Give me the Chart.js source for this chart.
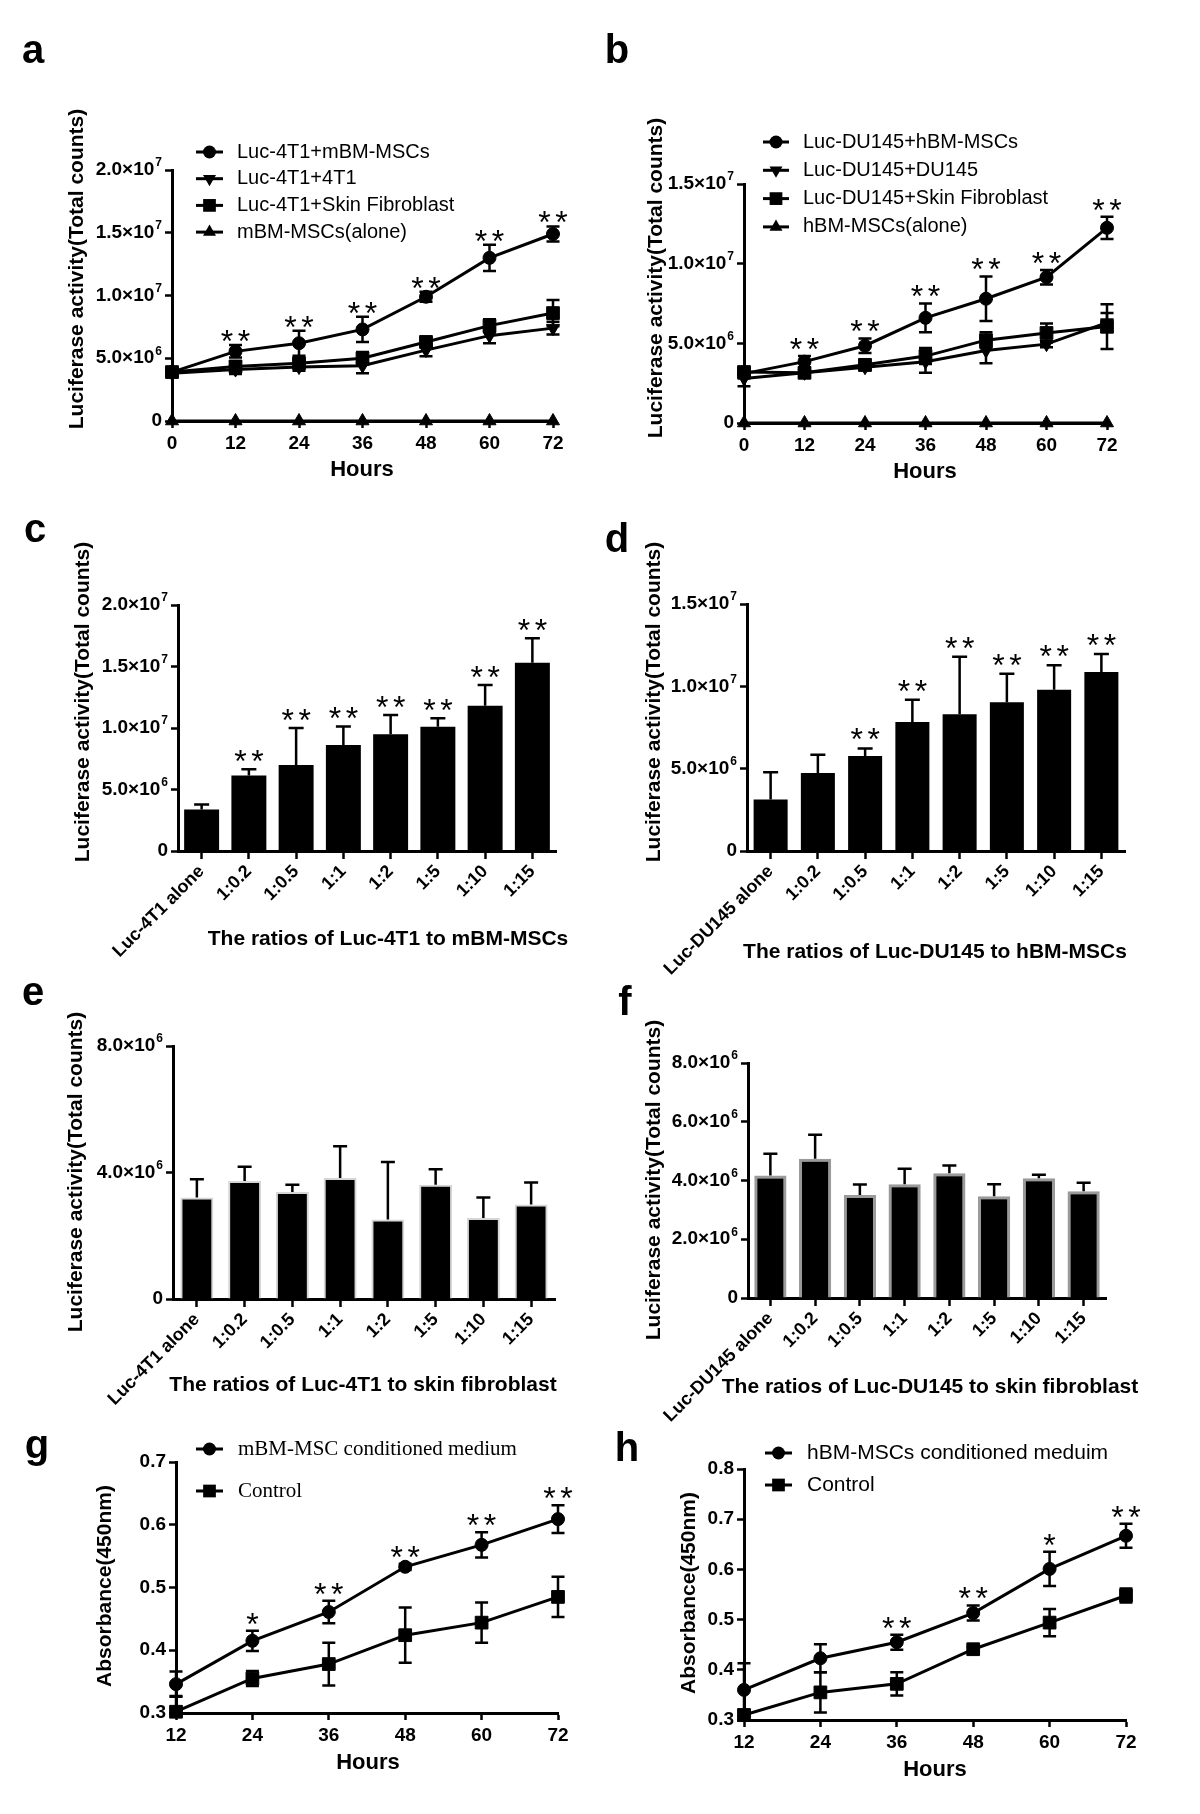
<!DOCTYPE html>
<html><head><meta charset="utf-8">
<script src="https://cdn.jsdelivr.net/npm/chart.js@4.4.1/dist/chart.umd.min.js"></script>
<style>
html,body{margin:0;padding:0;background:#fff;}
#wrap{position:relative;width:1200px;height:1814px;background:#fff;}
canvas{position:absolute;left:0;top:0;}
</style></head><body><div id="wrap"></div>
<script>
// ---------------- DATA ----------------
const hoursAB = [0, 12, 24, 36, 48, 60, 72];
const hoursGH = [12, 24, 36, 48, 60, 72];

// Panel a
const a_series = ['Luc-4T1+mBM-MSCs', 'Luc-4T1+4T1', 'Luc-4T1+Skin Fibroblast', 'mBM-MSCs(alone)'];
const a_mbm      = [3.9e6, 5.55e6, 6.2e6, 7.3e6, 9.9e6, 13.0e6, 14.9e6];
const a_mbm_err  = [0.3e6, 0.5e6, 1.0e6, 1.0e6, 0.4e6, 1.05e6, 0.6e6];
const a_4t1      = [3.8e6, 4.1e6, 4.3e6, 4.4e6, 5.65e6, 6.8e6, 7.4e6];
const a_4t1_err  = [0.3e6, 0.35e6, 0.3e6, 0.6e6, 0.5e6, 0.6e6, 0.5e6];
const a_skin     = [3.9e6, 4.35e6, 4.6e6, 5.0e6, 6.3e6, 7.6e6, 8.6e6];
const a_skin_err = [0.2e6, 0.4e6, 0.3e6, 0.5e6, 0.3e6, 0.5e6, 1.05e6];
const a_alone    = [0, 0, 0, 0, 0, 0, 0];
const a_sig      = ['', '**', '**', '**', '**', '**', '**'];
const a_yTicks   = [0, 5e6, 1e7, 1.5e7, 2e7];
const a_yLabels  = ['0', '5.0×10^6', '1.0×10^7', '1.5×10^7', '2.0×10^7'];

// Panel b
const b_series = ['Luc-DU145+hBM-MSCs', 'Luc-DU145+DU145', 'Luc-DU145+Skin Fibroblast', 'hBM-MSCs(alone)'];
const b_hbm      = [3.1e6, 3.85e6, 4.85e6, 6.6e6, 7.8e6, 9.15e6, 12.25e6];
const b_hbm_err  = [0.3e6, 0.35e6, 0.45e6, 0.9e6, 1.4e6, 0.45e6, 0.7e6];
const b_du       = [2.8e6, 3.15e6, 3.5e6, 3.85e6, 4.55e6, 4.95e6, 6.3e6];
const b_du_err   = [0.5e6, 0.2e6, 0.2e6, 0.7e6, 0.8e6, 0.2e6, 0.6e6];
const b_skin     = [3.2e6, 3.15e6, 3.65e6, 4.2e6, 5.2e6, 5.65e6, 6.05e6];
const b_skin_err = [0.3e6, 0.2e6, 0.3e6, 0.5e6, 0.5e6, 0.6e6, 1.4e6];
const b_alone    = [0, 0, 0, 0, 0, 0, 0];
const b_sig      = ['', '**', '**', '**', '**', '**', '**'];
const b_yTicks   = [0, 5e6, 1e7, 1.5e7];
const b_yLabels  = ['0', '5.0×10^6', '1.0×10^7', '1.5×10^7'];

// Panel c
const c_cats   = ['Luc-4T1 alone', '1:0.2', '1:0.5', '1:1', '1:2', '1:5', '1:10', '1:15'];
const c_vals   = [3.38e6, 6.14e6, 7.0e6, 8.62e6, 9.49e6, 10.1e6, 11.8e6, 15.3e6];
const c_err    = [0.4e6, 0.5e6, 3.0e6, 1.5e6, 1.56e6, 0.7e6, 1.7e6, 2.0e6];
const c_sig    = ['', '**', '**', '**', '**', '**', '**', '**'];
const c_yTicks = [0, 5e6, 1e7, 1.5e7, 2e7];
const c_yLabels= ['0', '5.0×10^6', '1.0×10^7', '1.5×10^7', '2.0×10^7'];

// Panel d
const d_cats   = ['Luc-DU145 alone', '1:0.2', '1:0.5', '1:1', '1:2', '1:5', '1:10', '1:15'];
const d_vals   = [3.12e6, 4.74e6, 5.77e6, 7.83e6, 8.3e6, 9.03e6, 9.8e6, 10.87e6];
const d_err    = [1.66e6, 1.1e6, 0.45e6, 1.36e6, 3.5e6, 1.74e6, 1.48e6, 1.1e6];
const d_sig    = ['', '', '**', '**', '**', '**', '**', '**'];
const d_yTicks = [0, 5e6, 1e7, 1.5e7];
const d_yLabels= ['0', '5.0×10^6', '1.0×10^7', '1.5×10^7'];

// Panel e
const e_cats   = ['Luc-4T1 alone', '1:0.2', '1:0.5', '1:1', '1:2', '1:5', '1:10', '1:15'];
const e_vals   = [3.21e6, 3.73e6, 3.38e6, 3.83e6, 2.51e6, 3.61e6, 2.56e6, 2.99e6];
const e_err    = [0.58e6, 0.45e6, 0.23e6, 1.0e6, 1.82e6, 0.49e6, 0.65e6, 0.69e6];
const e_yTicks = [0, 4e6, 8e6];
const e_yLabels= ['0', '4.0×10^6', '8.0×10^6'];

// Panel f
const f_cats   = ['Luc-DU145 alone', '1:0.2', '1:0.5', '1:1', '1:2', '1:5', '1:10', '1:15'];
const f_vals   = [4.17e6, 4.74e6, 3.51e6, 3.87e6, 4.25e6, 3.46e6, 4.08e6, 3.63e6];
const f_err    = [0.74e6, 0.82e6, 0.35e6, 0.53e6, 0.26e6, 0.41e6, 0.12e6, 0.29e6];
const f_yTicks = [0, 2e6, 4e6, 6e6, 8e6];
const f_yLabels= ['0', '2.0×10^6', '4.0×10^6', '6.0×10^6', '8.0×10^6'];

// Panel g
const g_series   = ['mBM-MSC conditioned medium', 'Control'];
const g_cm       = [0.346, 0.415, 0.461, 0.533, 0.568, 0.609];
const g_cm_err   = [0.02, 0.016, 0.018, 0.005, 0.02, 0.022];
const g_ctrl     = [0.302, 0.355, 0.378, 0.424, 0.444, 0.485];
const g_ctrl_err = [0.025, 0.012, 0.034, 0.044, 0.032, 0.032];
const g_sig      = ['', '*', '**', '**', '**', '**'];
const g_yTicks   = [0.3, 0.4, 0.5, 0.6, 0.7];
const g_yLabels  = ['0.3', '0.4', '0.5', '0.6', '0.7'];

// Panel h
const h_series   = ['hBM-MSCs conditioned meduim', 'Control'];
const h_cm       = [0.36, 0.423, 0.455, 0.513, 0.601, 0.667];
const h_cm_err   = [0.053, 0.028, 0.015, 0.015, 0.034, 0.024];
const h_ctrl     = [0.31, 0.355, 0.372, 0.441, 0.494, 0.548];
const h_ctrl_err = [0.01, 0.04, 0.023, 0.005, 0.027, 0.014];
const h_sig      = ['', '', '**', '**', '*', '**'];
const h_yTicks   = [0.3, 0.4, 0.5, 0.6, 0.7, 0.8];
const h_yLabels  = ['0.3', '0.4', '0.5', '0.6', '0.7', '0.8'];

// ---------------- RENDERING ----------------
const FONT = "'Liberation Sans', Arial, Helvetica, sans-serif";
const SERIF = "'Liberation Serif', 'Times New Roman', serif";
const W = 1200, H = 1814, YW = 110;
const TICKLEN = 7;

function mkCanvas() {
  const c = document.createElement('canvas');
  c.width = W; c.height = H;
  c.style.width = W + 'px'; c.style.height = H + 'px';
  document.getElementById('wrap').appendChild(c);
  return c.getContext('2d');
}
function tickFont(size) { return { family: FONT, size: size, weight: 'bold' }; }
const gridCfg = { display: true, drawOnChartArea: false, drawTicks: true, tickLength: TICKLEN, tickWidth: 2.5, tickColor: '#000', color: '#000' };
const borderCfg = { display: true, color: '#000', width: 3 };

function yAxis(min, max, vals) {
  return {
    type: 'linear', position: 'left', min: min, max: max,
    afterBuildTicks: s => { s.ticks = vals.map(v => ({ value: v })); },
    ticks: { display: false },
    grid: gridCfg, border: borderCfg,
    afterFit: s => { s.width = YW; }
  };
}
function xLinear(min, max, vals) {
  return {
    type: 'linear', position: 'bottom', min: min, max: max, clip: false,
    afterBuildTicks: s => { s.ticks = vals.map(v => ({ value: v })); },
    ticks: { callback: v => String(v), font: tickFont(19), color: '#000', padding: 4, maxRotation: 0, autoSkip: false },
    grid: gridCfg, border: borderCfg,
    afterFit: s => { s.height = 40; }
  };
}
function xCat() {
  return {
    type: 'category', position: 'bottom', offset: true, clip: false,
    ticks: { font: tickFont(18), color: '#000', padding: 2, minRotation: 45, maxRotation: 45, autoSkip: false },
    grid: Object.assign({}, gridCfg, { offset: false, tickLength: 8 }),
    border: borderCfg,
    afterFit: s => { s.height = 130; }
  };
}

function drawMarker(ctx, style, rot, r, x, y) {
  ctx.save(); ctx.translate(x, y); ctx.rotate((rot || 0) * Math.PI / 180); ctx.beginPath();
  if (style === 'circle') ctx.arc(0, 0, r, 0, 2 * Math.PI);
  else if (style === 'rect') { const s = r * Math.SQRT1_2; ctx.rect(-s, -s, 2 * s, 2 * s); }
  else { ctx.moveTo(0, -r); ctx.lineTo(r * 0.866, r * 0.5); ctx.lineTo(-r * 0.866, r * 0.5); ctx.closePath(); }
  ctx.fill(); ctx.restore();
}

function makeDeco(cfg) {
  return {
    id: 'deco',
    afterDatasetsDraw(chart) {
      const ctx = chart.ctx, ys = chart.scales.y;
      ctx.save();
      ctx.strokeStyle = '#000'; ctx.lineWidth = 2.5; ctx.lineCap = 'butt';
      chart.data.datasets.forEach((ds, di) => {
        if (!ds.errors) return;
        const meta = chart.getDatasetMeta(di);
        meta.data.forEach((el, i) => {
          const v = ds.values[i], e = ds.errors[i];
          if (!e) return;
          const x = el.x, cap = cfg.cap / 2;
          const top = ys.getPixelForValue(v + e);
          const lowV = ds.errUp ? v : Math.max(v - e, ys.min);
          const bot = ys.getPixelForValue(lowV);
          ctx.beginPath();
          ctx.moveTo(x, top); ctx.lineTo(x, bot);
          ctx.moveTo(x - cap, top); ctx.lineTo(x + cap, top);
          if (!ds.errUp && v - e >= ys.min) { ctx.moveTo(x - cap, bot); ctx.lineTo(x + cap, bot); }
          ctx.stroke();
        });
      });
      if (cfg.stars) {
        const ds = chart.data.datasets[0], meta = chart.getDatasetMeta(0);
        const sz = 32;
        ctx.fillStyle = '#000'; ctx.font = sz + 'px ' + FONT; ctx.textAlign = 'center'; ctx.textBaseline = 'alphabetic';
        cfg.stars.forEach((s, i) => {
          if (!s) return;
          const x = meta.data[i].x;
          const yTop = ys.getPixelForValue(ds.values[i] + ds.errors[i]);
          const yc = yTop - cfg.starGap;
          const n = s.length, sp = 17;
          for (let k = 0; k < n; k++) {
            ctx.fillText('*', x + (k - (n - 1) / 2) * sp, yc + 0.56 * sz);
          }
        });
      }
      ctx.restore();
    },
    afterDraw(chart) {
      const ctx = chart.ctx;
      ctx.save();
      // y tick labels with superscript exponents, positioned by the y scale
      const ys = chart.scales.y;
      const main = 'bold 19px ' + FONT, sup = 'bold 12px ' + FONT;
      ys.ticks.forEach((tk, i) => {
        const lab = cfg.yLabels[i]; if (lab === undefined) return;
        const y = ys.getPixelForValue(tk.value);
        const parts = lab.split('^');
        ctx.font = main; const w1 = ctx.measureText(parts[0]).width;
        let w2 = 0; if (parts[1]) { ctx.font = sup; w2 = ctx.measureText(parts[1]).width + 1; }
        const xr = ys.right - TICKLEN - 3;
        const x0 = xr - w1 - w2;
        ctx.fillStyle = '#000'; ctx.textAlign = 'left'; ctx.textBaseline = 'middle';
        ctx.font = main; ctx.fillText(parts[0], x0, y);
        if (parts[1]) { ctx.font = sup; ctx.fillText(parts[1], x0 + w1 + 1, y - 7); }
      });
      if (cfg.legend) {
        const L = cfg.legend;
        chart.data.datasets.forEach((ds, i) => {
          const y = L.y0 + i * L.dy;
          ctx.strokeStyle = '#000'; ctx.fillStyle = '#000'; ctx.lineWidth = 3;
          ctx.beginPath(); ctx.moveTo(L.x0, y); ctx.lineTo(L.x1, y); ctx.stroke();
          drawMarker(ctx, ds.pointStyle, ds.pointRotation, ds.pointRadius, (L.x0 + L.x1) / 2, y);
          ctx.font = L.font; ctx.textAlign = 'left'; ctx.textBaseline = 'middle';
          ctx.fillText(ds.label, L.tx, y);
        });
      }
      (cfg.texts || []).forEach(t => {
        ctx.save();
        ctx.fillStyle = '#000'; ctx.font = t.font;
        ctx.textAlign = t.align || 'center'; ctx.textBaseline = t.base || 'middle';
        ctx.translate(t.x, t.y);
        if (t.rot) ctx.rotate(t.rot * Math.PI / 180);
        ctx.fillText(t.t, 0, 0);
        ctx.restore();
      });
      ctx.restore();
    }
  };
}

function build(area, type, data, scales, deco) {
  const [L, T, R, B] = area;
  const xh = type === 'bar' ? 130 : 40;
  return new Chart(mkCanvas(), {
    type: type, data: data,
    options: {
      responsive: false, animation: false, devicePixelRatio: 1, events: [],
      layout: { padding: { left: L - YW, top: T, right: W - R, bottom: H - B - xh } },
      scales: scales,
      plugins: { legend: { display: false }, tooltip: { enabled: false } }
    },
    plugins: [makeDeco(deco)]
  });
}

function lineDs(label, xs, ys, errs, style, rot, radius) {
  return {
    label: label, data: xs.map((x, i) => ({ x: x, y: ys[i] })), values: ys, errors: errs,
    borderColor: '#000', backgroundColor: '#000', borderWidth: 3,
    pointStyle: style, pointRotation: rot || 0, pointRadius: radius,
    pointBackgroundColor: '#000', pointBorderColor: '#000', pointBorderWidth: 1,
    tension: 0, fill: false, clip: false
  };
}
function barDs(vals, errs, border, bw, pct) {
  return {
    data: vals, values: vals, errors: errs, errUp: true,
    backgroundColor: '#000', borderColor: border, borderWidth: bw,
    barPercentage: pct, categoryPercentage: 1
  };
}

const F = (w, s, fam) => (w ? 'bold ' : '') + s + 'px ' + (fam || FONT);
const YT = 'Luciferase activity(Total counts)';

// ---- Panel a ----
build([172, 170, 553, 421], 'line', {
  datasets: [
    lineDs(a_series[0], hoursAB, a_mbm, a_mbm_err, 'circle', 0, 6.5),
    lineDs(a_series[1], hoursAB, a_4t1, a_4t1_err, 'triangle', 180, 7.5),
    lineDs(a_series[2], hoursAB, a_skin, a_skin_err, 'rect', 0, 9),
    lineDs(a_series[3], hoursAB, a_alone, null, 'triangle', 0, 7.5)
  ]
}, { x: xLinear(0, 72, hoursAB), y: yAxis(0, 2e7, a_yTicks) }, {
  cap: 13, stars: a_sig, starGap: 11, yLabels: a_yLabels,
  legend: { x0: 196, x1: 223, tx: 237, y0: 152, dy: 26.7, font: F(false, 20) },
  texts: [
    { t: 'a', x: 33, y: 63, font: F(true, 40), base: 'alphabetic' },
    { t: YT, x: 77, y: 269, font: F(true, 21), rot: -90 },
    { t: 'Hours', x: 362, y: 470, font: F(true, 22) }
  ]
});

// ---- Panel b ----
build([744, 184, 1107, 423], 'line', {
  datasets: [
    lineDs(b_series[0], hoursAB, b_hbm, b_hbm_err, 'circle', 0, 6.5),
    lineDs(b_series[1], hoursAB, b_du, b_du_err, 'triangle', 180, 7.5),
    lineDs(b_series[2], hoursAB, b_skin, b_skin_err, 'rect', 0, 9),
    lineDs(b_series[3], hoursAB, b_alone, null, 'triangle', 0, 7.5)
  ]
}, { x: xLinear(0, 72, hoursAB), y: yAxis(0, 1.5e7, b_yTicks) }, {
  cap: 13, stars: b_sig, starGap: 14, yLabels: b_yLabels,
  legend: { x0: 763, x1: 789, tx: 803, y0: 142, dy: 28.3, font: F(false, 20) },
  texts: [
    { t: 'b', x: 617, y: 63, font: F(true, 40), base: 'alphabetic' },
    { t: YT, x: 656, y: 278, font: F(true, 21), rot: -90 },
    { t: 'Hours', x: 925, y: 472, font: F(true, 22) }
  ]
});

// ---- Panel c ----
build([178, 605, 556, 851], 'bar', {
  labels: c_cats, datasets: [barDs(c_vals, c_err, '#000', 0, 0.74)]
}, { x: xCat(), y: yAxis(0, 2e7, c_yTicks) }, {
  cap: 15, stars: c_sig, starGap: 15, yLabels: c_yLabels,
  texts: [
    { t: 'c', x: 35, y: 542, font: F(true, 40), base: 'alphabetic' },
    { t: YT, x: 83, y: 702, font: F(true, 21), rot: -90 },
    { t: 'The ratios of Luc-4T1 to mBM-MSCs', x: 388, y: 939, font: F(true, 21) }
  ]
});

// ---- Panel d ----
build([747, 604, 1125, 851], 'bar', {
  labels: d_cats, datasets: [barDs(d_vals, d_err, '#000', 0, 0.72)]
}, { x: xCat(), y: yAxis(0, 1.5e7, d_yTicks) }, {
  cap: 15, stars: d_sig, starGap: 16, yLabels: d_yLabels,
  texts: [
    { t: 'd', x: 617, y: 552, font: F(true, 40), base: 'alphabetic' },
    { t: YT, x: 654, y: 702, font: F(true, 21), rot: -90 },
    { t: 'The ratios of Luc-DU145 to hBM-MSCs', x: 935, y: 952, font: F(true, 21) }
  ]
});

// ---- Panel e ----
build([173, 1046, 555, 1299], 'bar', {
  labels: e_cats, datasets: [barDs(e_vals, e_err, '#d6d6d6', 2, 0.69)]
}, { x: xCat(), y: yAxis(0, 8e6, e_yTicks) }, {
  cap: 14, yLabels: e_yLabels,
  texts: [
    { t: 'e', x: 33, y: 1005, font: F(true, 40), base: 'alphabetic' },
    { t: YT, x: 76, y: 1172, font: F(true, 21), rot: -90 },
    { t: 'The ratios of Luc-4T1 to skin fibroblast', x: 363, y: 1385, font: F(true, 21) }
  ]
});

// ---- Panel f ----
build([748, 1063, 1106, 1298], 'bar', {
  labels: f_cats, datasets: [barDs(f_vals, f_err, '#9a9a9a', 3, 0.72)]
}, { x: xCat(), y: yAxis(0, 8e6, f_yTicks) }, {
  cap: 14, yLabels: f_yLabels,
  texts: [
    { t: 'f', x: 625, y: 1015, font: F(true, 40), base: 'alphabetic' },
    { t: YT, x: 654, y: 1180, font: F(true, 21), rot: -90 },
    { t: 'The ratios of Luc-DU145 to skin fibroblast', x: 930, y: 1387, font: F(true, 21) }
  ]
});

// ---- Panel g ----
build([176, 1462, 558, 1713], 'line', {
  datasets: [
    lineDs(g_series[0], hoursGH, g_cm, g_cm_err, 'circle', 0, 6.5),
    lineDs(g_series[1], hoursGH, g_ctrl, g_ctrl_err, 'rect', 0, 9)
  ]
}, { x: xLinear(12, 72, hoursGH), y: yAxis(0.3, 0.7, g_yTicks) }, {
  cap: 13, stars: g_sig, starGap: 14, yLabels: g_yLabels,
  legend: { x0: 196, x1: 223, tx: 238, y0: 1449, dy: 42, font: F(false, 21, SERIF) },
  texts: [
    { t: 'g', x: 37, y: 1458, font: F(true, 40), base: 'alphabetic' },
    { t: 'Absorbance(450nm)', x: 105, y: 1586, font: F(true, 21), rot: -90 },
    { t: 'Hours', x: 368, y: 1763, font: F(true, 22) }
  ]
});

// ---- Panel h ----
build([744, 1469, 1126, 1720], 'line', {
  datasets: [
    lineDs(h_series[0], hoursGH, h_cm, h_cm_err, 'circle', 0, 6.5),
    lineDs(h_series[1], hoursGH, h_ctrl, h_ctrl_err, 'rect', 0, 9)
  ]
}, { x: xLinear(12, 72, hoursGH), y: yAxis(0.3, 0.8, h_yTicks) }, {
  cap: 13, stars: h_sig, starGap: 14, yLabels: h_yLabels,
  legend: { x0: 765, x1: 792, tx: 807, y0: 1453, dy: 32, font: F(false, 21) },
  texts: [
    { t: 'h', x: 627, y: 1461, font: F(true, 40), base: 'alphabetic' },
    { t: 'Absorbance(450nm)', x: 689, y: 1593, font: F(true, 21), rot: -90 },
    { t: 'Hours', x: 935, y: 1770, font: F(true, 22) }
  ]
});
</script>
</body></html>
